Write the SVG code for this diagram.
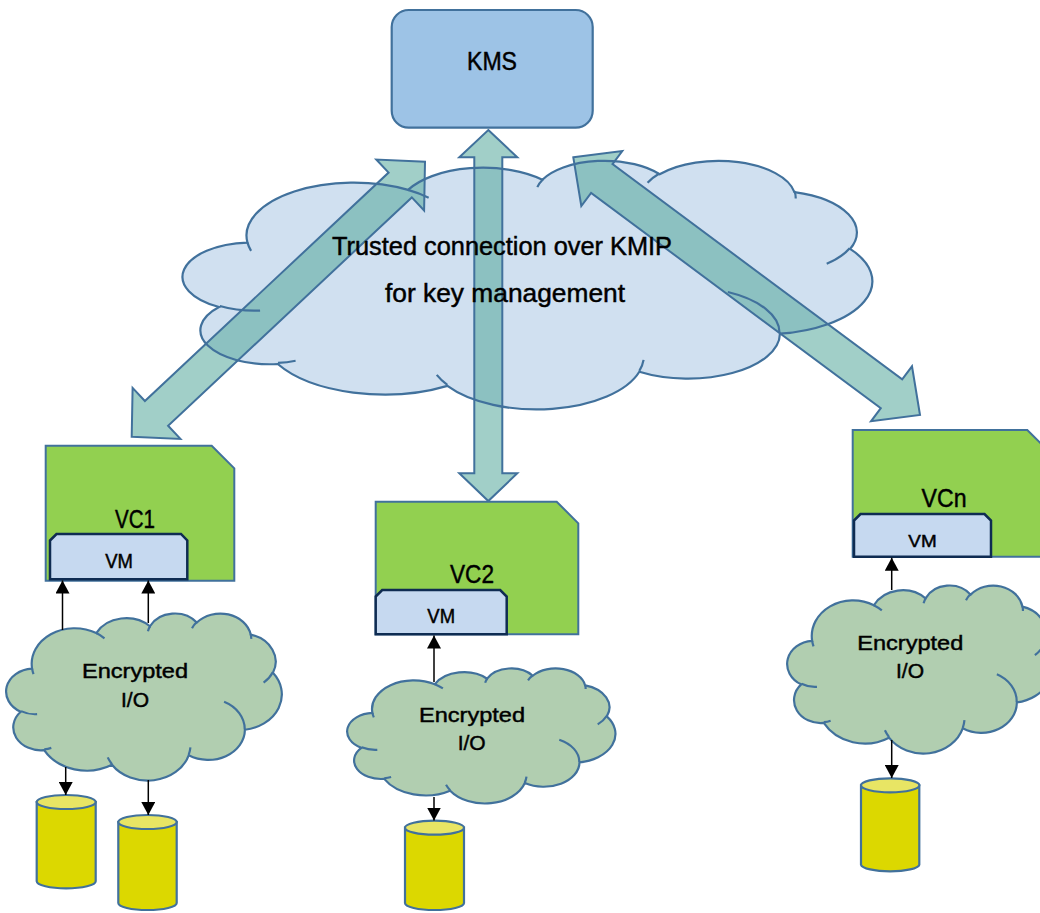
<svg xmlns="http://www.w3.org/2000/svg" xmlns:xlink="http://www.w3.org/1999/xlink" width="1040" height="913" viewBox="0 0 1040 913">
<style>
.lbl{font-family:"Liberation Sans",Arial,sans-serif;fill:#000;stroke:#000;stroke-width:0.45;text-anchor:middle}
.cl-edge{fill:none;stroke:#41719c;stroke-width:2.2}
.cl-fill-big{fill:#d0e0f0;stroke:none}
.cl-green{fill:#b1ceb0;stroke:#41719c;stroke-width:2.2}
.barrow{fill:#53a89b;fill-opacity:0.55;stroke:#41719c;stroke-width:2;stroke-linejoin:miter}
.vc{fill:#92d050;stroke:#41719c;stroke-width:2}
.vm{fill:#c6d9f0;stroke:#0f2c52;stroke-width:2.5}
.kms{fill:#9dc3e6;stroke:#41719c;stroke-width:2.2}
.cyl-body{fill:#dcd800;stroke:#41719c;stroke-width:2.2}
.cyl-top{fill:#e8e564;stroke:#41719c;stroke-width:2.2}
.conn{stroke:#000;stroke-width:1.5;fill:none;marker-end:url(#ah)}
</style>
<defs>
<path id="cloudShape" vector-effect="non-scaling-stroke" d="M3900 14370 A6753 9190 0 0 1 14005 5202 A5333 7267 0 0 1 22458 3431 A4365 5945 0 0 1 29835 2479 A4857 6595 0 0 1 38320 5575 A5333 7273 0 0 1 41820 15458 A6775 9220 0 0 1 37407 30202 A5785 7867 0 0 1 28558 36813 A6752 9215 0 0 1 16483 39265 A7720 10543 0 0 1 5806 35470 A4360 5918 0 0 1 2112 25551 A4345 5945 0 0 1 3900 14370 Z"/>
<path id="cloudInner" vector-effect="non-scaling-stroke" fill="none" d="M4693 26177 A4345 5945 0 0 1 2160 25380 M6928 34899 A4360 5918 0 0 1 5819 35281 M16478 39090 A6752 9215 0 0 1 15810 37349 M28827 34751 A6752 9215 0 0 1 28560 36660 M34129 22954 A5785 7867 0 0 1 37380 30090 M41798 15354 A5333 7273 0 0 1 40350 18030 M38324 5426 A4857 6595 0 0 1 38400 6689 M29078 3952 A4857 6595 0 0 1 29820 2340 M22141 4720 A4365 5945 0 0 1 22500 3331 M14000 5192 A6753 9190 0 0 1 15302 6543 M4127 15789 A6753 9190 0 0 1 3900 14371"/>
<marker id="ah" markerUnits="userSpaceOnUse" markerWidth="14" markerHeight="14" refX="13" refY="7" orient="auto" viewBox="0 0 14 14">
<path d="M0,0 L13,7 L0,14 Z" fill="#000"/>
</marker>
</defs>

<!-- big cloud fill (under the arrows) -->
<g id="cloud-kmip">
<use xlink:href="#cloudShape" class="cl-fill-big" transform="translate(185.5,160) scale(0.015891,0.005752)"/>
</g>

<!-- block double arrows -->
<g id="kmip-arrows">
<polygon class="barrow" points="131.7,436.7 180.4,438.9 168.1,425.8 411.8,197.4 424.1,210.5 425,161.7 376.3,159.5 388.6,172.6 144.9,401 132.6,387.9"/>
<polygon class="barrow" points="488.3,130 517.3,157.3 502.3,157.3 502.3,473.3 517.3,473.3 488.3,501 459.3,473.3 474.3,473.3 474.3,157.3 459.3,157.3"/>
<polygon class="barrow" points="573.3,157.3 622.3,151 612.5,164.1 902.2,379.4 912,366.3 920,415 871,421.3 880.8,408.2 591.1,192.9 581.3,206"/>
</g>

<!-- big cloud outline and label -->
<g id="cloud-kmip-outline">
<use xlink:href="#cloudShape" class="cl-edge" transform="translate(185.5,160) scale(0.015891,0.005752)"/>
<use xlink:href="#cloudInner" class="cl-edge" transform="translate(185.5,160) scale(0.015891,0.005752)"/>
<text class="lbl" x="502" y="255" font-size="25" textLength="340" lengthAdjust="spacingAndGlyphs">Trusted connection over KMIP</text>
<text class="lbl" x="505" y="302" font-size="25" textLength="240" lengthAdjust="spacingAndGlyphs">for key management</text>
</g>

<g id="kms">
<rect class="kms" x="391.7" y="10" width="201" height="117.7" rx="17" ry="17"/>
<text class="lbl" x="492" y="70" font-size="25" textLength="50" lengthAdjust="spacingAndGlyphs">KMS</text>
</g>

<g id="vc1">
<path class="vc" d="M45.7,445.7 L211.7,445.7 L234.3,468.3 L234.3,580.7 L45.7,580.7 Z"/>
<text class="lbl" x="135" y="527.7" font-size="25" textLength="40" lengthAdjust="spacingAndGlyphs">VC1</text>
</g>
<g id="vm1">
<path class="vm" d="M50,540.5 L56.5,534 L181,534 L187.3,540.5 L187.3,579.3 L50,579.3 Z"/>
<text class="lbl" x="119" y="568.3" font-size="19.5" textLength="27.7" lengthAdjust="spacingAndGlyphs">VM</text>
</g>

<g id="vc2">
<path class="vc" d="M375.7,501.7 L556.7,501.7 L578.3,523.3 L578.3,634.3 L375.7,634.3 Z"/>
<text class="lbl" x="472" y="583.3" font-size="25" textLength="44" lengthAdjust="spacingAndGlyphs">VC2</text>
</g>
<g id="vm2">
<path class="vm" d="M375.7,596.5 L382.2,590 L500.2,590 L506.7,596.5 L506.7,634.3 L375.7,634.3 Z"/>
<text class="lbl" x="441.2" y="623.3" font-size="19.5" textLength="27.7" lengthAdjust="spacingAndGlyphs">VM</text>
</g>

<g id="vcn">
<path class="vc" d="M852.7,430 L1027.3,430 L1049,451.7 L1049,556.7 L852.7,556.7 Z"/>
<text class="lbl" x="944" y="507.3" font-size="25" textLength="45" lengthAdjust="spacingAndGlyphs">VCn</text>
</g>
<g id="vm3">
<path class="vm" d="M854,520.5 L860.5,514 L984.5,514 L991,520.5 L991,556.7 L854,556.7 Z"/>
<text class="lbl" x="922.5" y="546.7" font-size="17" textLength="28.3" lengthAdjust="spacingAndGlyphs">VM</text>
</g>

<g id="io1">
<use xlink:href="#cloudShape" class="cl-green" transform="translate(7.3,613) scale(0.006352,0.003866)"/>
<use xlink:href="#cloudInner" class="cl-edge" transform="translate(7.3,613) scale(0.006352,0.003866)"/>
<text class="lbl" x="135" y="678.3" font-size="21" textLength="106" lengthAdjust="spacingAndGlyphs">Encrypted</text>
<text class="lbl" x="135" y="707.3" font-size="21">I/O</text>
</g>

<g id="io2">
<use xlink:href="#cloudShape" class="cl-green" transform="translate(348.3,668) scale(0.006181,0.003125)"/>
<use xlink:href="#cloudInner" class="cl-edge" transform="translate(348.3,668) scale(0.006181,0.003125)"/>
<text class="lbl" x="472" y="721.7" font-size="21" textLength="106" lengthAdjust="spacingAndGlyphs">Encrypted</text>
<text class="lbl" x="471.7" y="750" font-size="21">I/O</text>
</g>

<g id="io3">
<use xlink:href="#cloudShape" class="cl-green" transform="translate(788.3,585) scale(0.006111,0.003889)"/>
<use xlink:href="#cloudInner" class="cl-edge" transform="translate(788.3,585) scale(0.006111,0.003889)"/>
<text class="lbl" x="910.3" y="650" font-size="21" textLength="106" lengthAdjust="spacingAndGlyphs">Encrypted</text>
<text class="lbl" x="910" y="678.3" font-size="21">I/O</text>
</g>

<g id="disk1">
<path class="cyl-body" d="M36.7,802 L36.7,881.3 A29.5,7 0 0 0 95.7,881.3 L95.7,802 Z"/>
<ellipse class="cyl-top" cx="66.2" cy="802" rx="29.5" ry="7"/>
</g>
<g id="disk2">
<path class="cyl-body" d="M118.3,822 L118.3,903 A29.2,7 0 0 0 176.7,903 L176.7,822 Z"/>
<ellipse class="cyl-top" cx="147.5" cy="822" rx="29.2" ry="7"/>
</g>
<g id="disk3">
<path class="cyl-body" d="M405,827.7 L405,903 A29.5,7 0 0 0 464,903 L464,827.7 Z"/>
<ellipse class="cyl-top" cx="434.5" cy="827.7" rx="29.5" ry="7"/>
</g>
<g id="disk4">
<path class="cyl-body" d="M861,785.3 L861,864.7 A29.2,7 0 0 0 919.3,864.7 L919.3,785.3 Z"/>
<ellipse class="cyl-top" cx="890.2" cy="785.3" rx="29.2" ry="7"/>
</g>

<g id="connectors">
<line class="conn" x1="62.5" y1="630" x2="62.5" y2="580.5"/>
<line class="conn" x1="148.3" y1="623" x2="148.3" y2="580.5"/>
<line class="conn" x1="65.7" y1="767" x2="65.7" y2="795"/>
<line class="conn" x1="148.3" y1="780" x2="148.3" y2="815"/>
<line class="conn" x1="434" y1="682" x2="434" y2="635.5"/>
<line class="conn" x1="434" y1="797" x2="434" y2="820.5"/>
<line class="conn" x1="891.7" y1="590" x2="891.7" y2="557.7"/>
<line class="conn" x1="891.7" y1="740" x2="891.7" y2="778"/>
</g>
</svg>
